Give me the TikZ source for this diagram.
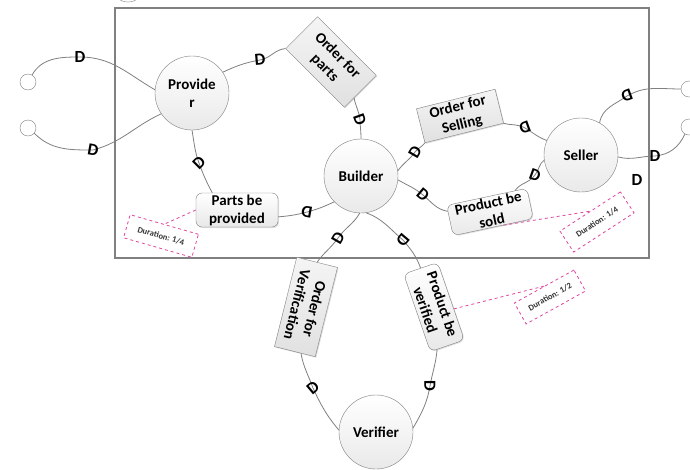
\documentclass[tikz,border=0pt]{standalone}
\usepackage{fontspec}
\setmainfont{Carlito}
\usetikzlibrary{calc,shadows}
\definecolor{edgegray}{RGB}{128,128,128}
\definecolor{pinkd}{RGB}{226,70,160}
\tikzset{
  place/.style={circle, minimum size=74pt, inner sep=0pt, draw=edgegray,
    top color=white, bottom color=gray!17, align=center,
    font=\bfseries\fontsize{15}{18}\selectfont},
  port/.style={circle, minimum size=16pt, inner sep=0pt, draw=edgegray, fill=white},
  trans/.style={rectangle, inner sep=0pt, draw=edgegray, top color=gray!8,
    bottom color=gray!24, align=center, font=\bfseries\fontsize{15}{18}\selectfont,
    drop shadow={opacity=0.25, shadow xshift=1pt, shadow yshift=-1pt}},
  rtrans/.style={trans, rounded corners=6pt, top color=white, bottom color=gray!18},
  durbox/.style={rectangle, inner sep=0pt, draw=pinkd, dashed, line width=0.8pt,
    font=\bfseries\fontsize{8.5}{9}\selectfont, text=black!80},
  conn/.style={draw=edgegray, line width=0.8pt},
  lead/.style={draw=pinkd, dashed, line width=0.8pt},
  dmark/.style={inner sep=0pt, font=\bfseries\fontsize{17}{17}\selectfont}
}
\begin{document}
\begin{tikzpicture}[x=1pt,y=1pt]
\useasboundingbox (0,0) rectangle (690,-469);
\clip (0,0) rectangle (690,-469);
\fill[white] (0,0) rectangle (690,-469);

% frame of the production system
\draw[draw=edgegray, line width=1.2pt] (115,-8) rectangle (649,-258);

% places
\node[place] (prov) at (192,-93) {Provide\\r};
\node[place] (bld)  at (361,-176) {Builder};
\node[place] (sel)  at (581,-155) {Seller};
\node[place] (ver)  at (376,-432) {Verifier};

% interface ports
\node[port] (l1) at (28,-82) {};
\node[port] (l2) at (28,-128) {};
\node[port] (r1) at (689,-89) {};
\node[port] (r2) at (689,-127) {};
\node[port, minimum size=32pt] (tp) at (128,14) {};

% transitions
\node[trans, minimum width=83pt, minimum height=45pt, rotate=-45] (oparts) at (331,-62) {Order for\\parts};
\node[trans, minimum width=81pt, minimum height=35pt, rotate=14] (osell) at (460,-116) {Order for\\Selling};
\node[rtrans, minimum width=82pt, minimum height=31pt, rotate=12] (psold) at (490,-212) {Product be\\sold};
\node[rtrans, minimum width=82pt, minimum height=34pt] (pprov) at (237,-210) {Parts be\\provided};
\node[trans, minimum width=92pt, minimum height=42pt, rotate=-104] (over) at (306,-307) {Order for\\Verification};
\node[rtrans, minimum width=82pt, minimum height=36pt, rotate=-71] (pver) at (434,-307) {Product be\\verified};

% duration notes
\node[durbox, minimum width=71pt, minimum height=24pt, rotate=-16] (dura) at (161,-236) {Duration: 1/4};
\node[durbox, minimum width=72pt, minimum height=25pt, rotate=33] (durb) at (597,-222) {Duration: 1/4};
\node[durbox, minimum width=68pt, minimum height=24pt, rotate=29] (durc) at (550,-297) {Duration: 1/2};

% delay marks on the arcs
\coordinate (d1) at (80,-57);
\coordinate (d2) at (93,-150);
\coordinate (d3) at (260,-60);
\coordinate (d4) at (360,-120);
\coordinate (d5) at (199,-163);
\coordinate (d6) at (307,-212);
\coordinate (d7) at (415,-152);
\coordinate (d8) at (525,-128);
\coordinate (d9) at (423,-195);
\coordinate (d10) at (535,-175);
\coordinate (d11) at (627,-96);
\coordinate (d12) at (655,-156);
\coordinate (d14) at (338,-238);
\coordinate (d15) at (403,-240);
\coordinate (d16) at (313,-388);
\coordinate (d17) at (430,-386);

% arcs
\draw[conn] (l1.60) to[out=60,in=180] (d1) to[out=0,in=150] (prov.175);
\draw[conn] (l2.-40) to[out=-45,in=180] (d2) to[out=15,in=205] (prov.214);
\draw[conn] (prov.34) to[out=25,in=190] (d3) to[out=10,in=185] (oparts.south west);
\draw[conn] ($(oparts.south east)!0.3!(oparts.north east)$) to[out=-80,in=95] (d4) to[out=-88,in=90] (bld.90);
\draw[conn] (prov.-90) to[out=-80,in=110] (d5) to[out=-70,in=118] ($(pprov.north)!0.6!(pprov.north west)$);
\draw[conn] ($(pprov.east)!0.4!(pprov.south east)$) to[out=5,in=195] (d6) to[out=15,in=205] (bld.224);
\draw[conn] (bld.8) to[out=55,in=235] (d7) to[out=50,in=230] (osell.south west);
\draw[conn] (osell.south east) to[out=-15,in=150] (d8) to[out=-30,in=160] (sel.157);
\draw[conn] (bld.-6) to[out=-30,in=140] (d9) to[out=-40,in=170] ($(psold.west)!0.6!(psold.north west)$);
\draw[conn] ($(psold.north east)!0.15!(psold.north west)$) to[out=55,in=235] (d10) to[out=50,in=215] (sel.188);
\draw[conn] (sel.60) to[out=80,in=215] (d11) to[out=30,in=180] (r1.180);
\draw[conn] (sel.-3) to[out=-15,in=180] (d12) to[out=5,in=245] (r2.240);
\draw[conn] (bld.-92) to[out=-120,in=55] (d14) to[out=-125,in=55] (over.west);
\draw[conn] (bld.-82) to[out=-20,in=140] (d15) to[out=-50,in=110] (pver.west);
\draw[conn] ($(over.east)!0.3!(over.north east)$) to[out=-80,in=110] (d16) to[out=-65,in=130] (ver.177);
\draw[conn] ($(pver.east)!0.6!(pver.south east)$) to[out=-95,in=80] (d17) to[out=-100,in=60] (ver.6);

% duration leaders
\draw[lead] (pprov.west) -- (dura.north);
\draw[lead] ($(psold.south)!0.25!(psold.south east)$) -- (durb.north);
\draw[lead] ($(pver.north)!0.2!(pver.north east)$) -- (durc.north);

% delay glyphs
\node[dmark] (m1) at (d1) {D};
\node[dmark, rotate=-10] (m2) at (d2) {D};
\node[dmark, rotate=5] (m3) at (d3) {D};
\node[dmark, rotate=-70] (m4) at (d4) {D};
\node[dmark, rotate=45] (m5) at (d5) {D};
\node[dmark, rotate=170] (m6) at (d6) {D};
\node[dmark, rotate=60] (m7) at (d7) {D};
\node[dmark, rotate=200] (m8) at (d8) {D};
\node[dmark, rotate=-40] (m9) at (d9) {D};
\node[dmark, rotate=-20] (m10) at (d10) {D};
\node[dmark, rotate=200] (m11) at (d11) {D};
\node[dmark] (m12) at (d12) {D};
\node[dmark] (m13) at (637,-180) {D};
\node[dmark, rotate=60] (m14) at (d14) {D};
\node[dmark, rotate=-130] (m15) at (d15) {D};
\node[dmark, rotate=40] (m16) at (d16) {D};
\node[dmark, rotate=-90] (m17) at (d17) {D};
\end{tikzpicture}
\end{document}
